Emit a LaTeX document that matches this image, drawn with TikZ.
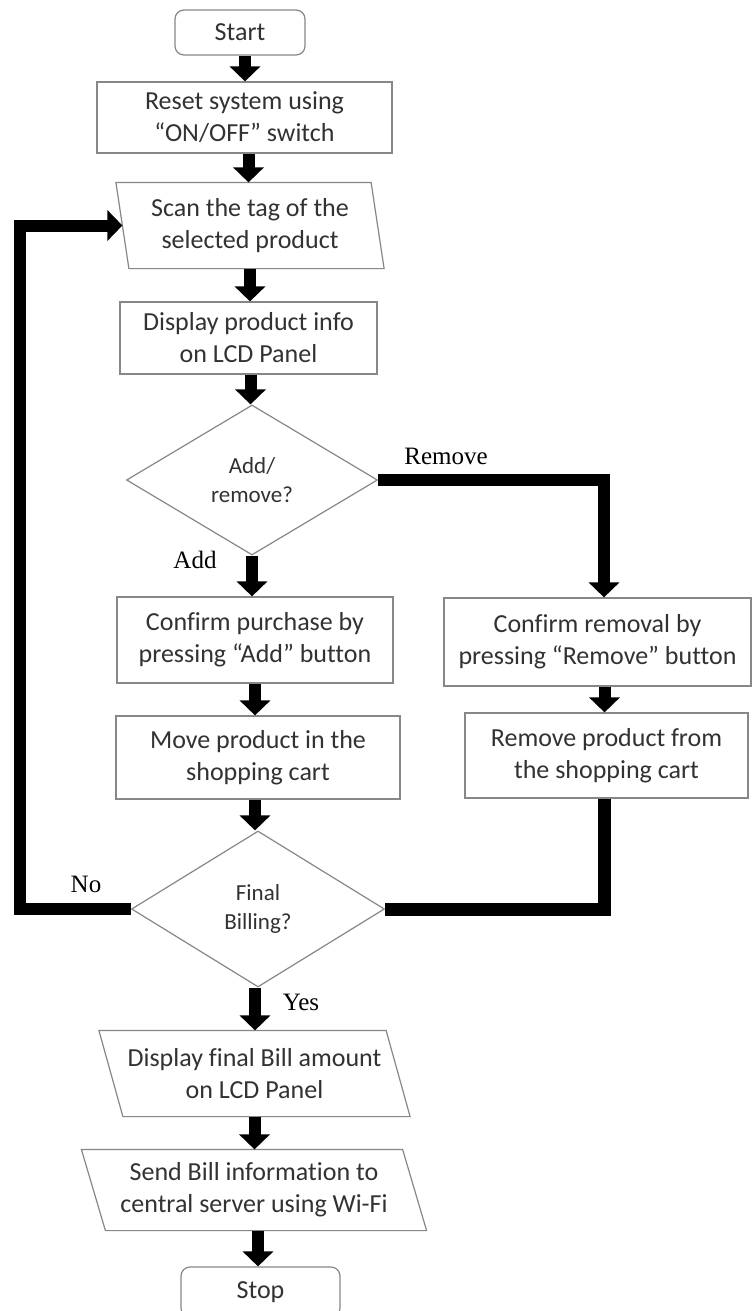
\documentclass[tikz,border=0pt]{standalone}
\usepackage{fontspec}
\setmainfont{Liberation Serif}
\newfontfamily\calfont[Ligatures=NoCommon]{Carlito}
\usetikzlibrary{shapes.geometric,arrows.meta}
\definecolor{boxgray}{RGB}{135,135,135}
\definecolor{txtgray}{RGB}{50,50,50}
\begin{document}
\begin{tikzpicture}[x=1pt,y=-1pt,
  box/.style={draw=boxgray, line width=1.2pt, text=txtgray, align=center, inner sep=0pt,
              font=\calfont\fontsize{26}{32}\selectfont},
  term/.style={box, rounded corners=9pt},
  para/.style={box, draw=none},
  paraline/.style={draw=boxgray, line width=1.2pt},
  dec/.style={box, diamond, font=\calfont\fontsize{23}{29}\selectfont},
  flow/.style={line width=12pt, line join=miter, -{Triangle[length=15pt,width=30pt]}},
  link/.style={line width=13pt, line join=miter},
  lbl/.style={font=\fontsize{25}{30}\selectfont, inner sep=0pt}
]
\useasboundingbox (0,0) rectangle (752,1311);
\clip (0,0) rectangle (752,1311);
\fill[white] (0,0) rectangle (752,1311);

% nodes
\node[term, minimum width=130pt, minimum height=45pt] (start) at (240,32.5) {Start};
\node[box, minimum width=295pt, minimum height=71pt] (reset) at (244.5,117.5) {Reset system using\\“ON/OFF” switch};
\node[para, minimum width=254pt, minimum height=85pt] (scan) at (250,225.5) {Scan the tag of the\\selected product};
\draw[paraline] ([xshift=-6.5pt]scan.north west) -- ([xshift=-6.5pt]scan.north east)
  -- ([xshift=6.5pt]scan.south east) -- ([xshift=6.5pt]scan.south west) -- cycle;
\node[box, minimum width=257pt, minimum height=72pt] (disp) at (248.5,338) {Display product info\\on LCD Panel};
\node[dec, minimum width=251pt, minimum height=150pt] (dia1) at (252,480) {Add/\\remove?};
\node[box, minimum width=276pt, minimum height=86pt] (confP) at (255,640) {Confirm purchase by\\pressing “Add” button};
\node[box, minimum width=307pt, minimum height=88pt] (confR) at (597.5,642) {Confirm removal by\\pressing “Remove” button};
\node[box, minimum width=284pt, minimum height=83pt] (move) at (258,757.5) {Move product in the\\shopping cart};
\node[box, minimum width=283pt, minimum height=85pt] (remP) at (606.5,755.5) {Remove product from\\the shopping cart};
\node[dec, minimum width=253pt, minimum height=156pt] (dia2) at (258,909) {Final\\Billing?};
\node[para, minimum width=286pt, minimum height=85pt] (dfin) at (254.5,1073.5) {Display final Bill amount\\on LCD Panel};
\draw[paraline] ([xshift=-12pt]dfin.north west) -- ([xshift=-12pt]dfin.north east)
  -- ([xshift=12pt]dfin.south east) -- ([xshift=12pt]dfin.south west) -- cycle;
\node[para, minimum width=320pt, minimum height=80pt] (send) at (254,1190) {Send Bill information to\\central server using Wi-Fi};
\draw[paraline] ([xshift=-12pt]send.north west) -- ([xshift=-12pt]send.north east)
  -- ([xshift=12pt]send.south east) -- ([xshift=12pt]send.south west) -- cycle;
\node[term, minimum width=159pt, minimum height=50pt] (stop) at (260.5,1292) {Stop};

% labels
\node[lbl] (lrem) at (446,456) {Remove};
\node[lbl] (ladd) at (195,560) {Add};
\node[lbl] (lno) at (86,884) {No};
\node[lbl] (lyes) at (301,1002) {Yes};

% connectors
\coordinate (lx) at (20,0);
\draw[flow] ([xshift=5pt]start.south) -- ([xshift=5pt]start.south |- reset.north);
\draw[flow] ([xshift=4pt]reset.south) -- ([xshift=4pt]reset.south |- scan.north);
\draw[flow] (scan.south) -- (scan.south |- disp.north);
\draw[flow] ([xshift=2pt]disp.south) -- ([xshift=2pt]disp.south |- dia1.north);
\draw[flow] (dia1.south) -- (dia1.south |- confP.north);
\draw[flow] (dia1.east) -| ([xshift=6.5pt]confR.north);
\draw[flow] (confP.south) -- (confP.south |- move.north);
\draw[flow] ([xshift=7pt]confR.south) -- ([xshift=7pt]confR.south |- remP.north);
\draw[flow] ([xshift=-3pt]move.south) -- ([xshift=-3pt]move.south |- dia2.north);
\draw[link] ([xshift=-2.5pt]remP.south) |- (dia2.east);
\draw[flow] (dia2.west) -| (lx |- scan.west) -- (scan.west);
\draw[flow] ([xshift=-3pt]dia2.south) -- ([xshift=-3pt]dia2.south |- dfin.north);
\draw[flow] (dfin.south) -- (dfin.south |- send.north);
\draw[flow] ([xshift=4pt]send.south) -- ([xshift=4pt]send.south |- stop.north);
\end{tikzpicture}
\end{document}
